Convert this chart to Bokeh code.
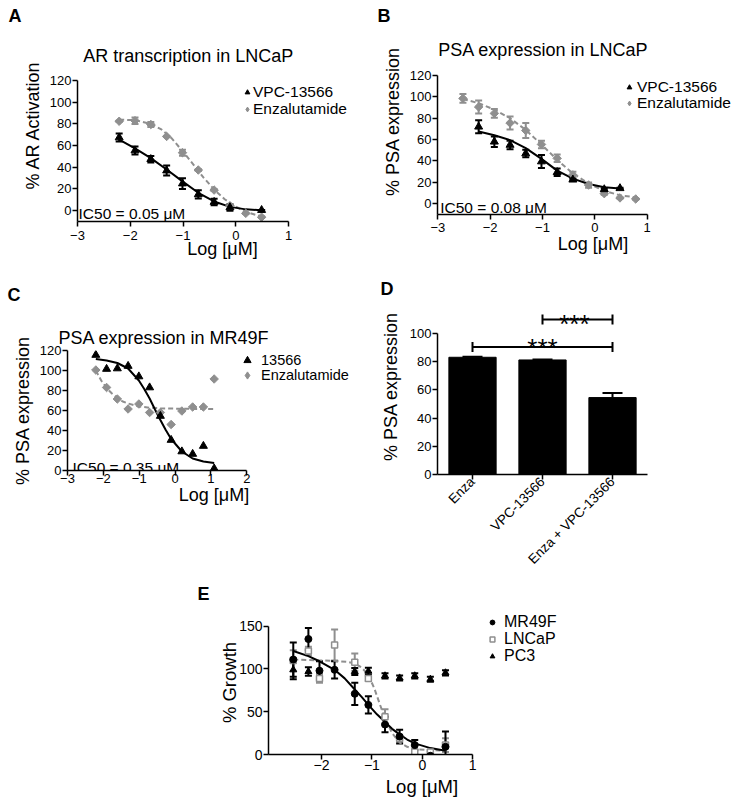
import math
from bokeh.plotting import figure
from bokeh.layouts import column, row
from bokeh.models import (Spacer, Legend, LegendItem, Whisker, TeeHead, ColumnDataSource,
                          Label, FixedTicker, FactorRange, Title)
from bokeh.embed import file_html
from bokeh.resources import INLINE

FONT = "Liberation Sans"
GREY = "#8f8f8f"

# ---------------- Panel A: AR transcription in LNCaP ----------------
a_x_vpc = [-2.21, -1.91, -1.61, -1.31, -1.01, -0.71, -0.41, -0.11, 0.49]
a_y_vpc = [67.5, 55.5, 47.5, 37, 25, 15, 8, 3, 0.5]
a_e_vpc = [3.7, 3.7, 3, 4.6, 5, 3.8, 3, 3, 0]
a_x_enz = [-2.21, -1.91, -1.61, -1.31, -1.01, -0.71, -0.41, -0.11, 0.19, 0.49]
a_y_enz = [82.5, 83, 79.5, 68.5, 53.5, 37.5, 19, 4.5, -2.5, -6]
a_e_enz = [0.5, 3, 2.3, 0.5, 2.8, 0.8, 0.8, 0.5, 0.5, 0.5]
a_cx_vpc = [-2.21, -1.91, -1.61, -1.31, -1.01, -0.71, -0.41, -0.11, 0.19, 0.49]
a_cy_vpc = [65.5, 57.5, 48.5, 38, 27, 16.5, 8.5, 3.5, 1.2, 0.3]
a_cx_enz = [-2.21, -1.91, -1.61, -1.41, -1.21, -1.01, -0.81, -0.61, -0.41, -0.21, -0.01, 0.19, 0.49]
a_cy_enz = [84, 83.5, 80, 75, 66.5, 55, 43, 30.5, 19.5, 10.5, 4, -1, -5.5]

# ---------------- Panel B: PSA expression in LNCaP ----------------
b_x_vpc = [-2.22, -1.92, -1.62, -1.32, -1.02, -0.72, -0.42, 0.18, 0.48]
b_y_vpc = [72, 58, 55, 47, 39.5, 29.5, 22.5, 13.5, 14.5]
b_e_vpc = [6, 5, 4, 3.5, 6, 3.5, 1, 1, 0.5]
b_x_enz = [-2.52, -2.22, -1.92, -1.62, -1.32, -1.02, -0.72, -0.42, -0.12, 0.18, 0.48, 0.78]
b_y_enz = [98.5, 90.5, 84.5, 75.5, 68.5, 55.5, 42.5, 27, 17.5, 9.5, 5.5, 4.5]
b_e_enz = [4, 6, 4, 6, 7, 3.5, 3.5, 3, 2.5, 1, 0.5, 0.5]
b_cx_vpc = [-2.22, -1.92, -1.62, -1.32, -1.02, -0.72, -0.42, -0.12, 0.18, 0.48]
b_cy_vpc = [67.5, 64, 59.5, 52, 42, 31, 23.5, 18.5, 15.5, 14.3]
b_cx_enz = [-2.52, -2.22, -1.92, -1.62, -1.32, -1.02, -0.72, -0.42, -0.12, 0.18, 0.48, 0.78]
b_cy_enz = [98, 94, 88, 80, 69, 55.5, 41, 28.5, 19, 12, 8, 6]

# ---------------- Panel C: PSA expression in MR49F ----------------
c_x = [-2.21, -1.91, -1.61, -1.31, -1.01, -0.71, -0.41, -0.11, 0.19, 0.49, 0.79, 1.09]
c_y_13566 = [115.5, 101.5, 102, 104.5, 94, 83, 54.5, 30.5, 19, 16.5, 24.5, 2]
c_y_enz = [100.5, 83, 71.5, 61.5, 66.5, 58, 58, 46, 59.5, 63.5, 63.5, 91.5]
c_cx_13566 = [-2.21, -1.91, -1.61, -1.31, -1.01, -0.86, -0.71, -0.56, -0.41, -0.26, -0.11, 0.19, 0.49, 0.79, 1.09]
c_cy_13566 = [111.5, 110, 107.5, 102, 90, 81.5, 72, 61, 50.5, 40.5, 31.5, 19, 12, 9, 7.5]
c_cx_enz = [-2.21, -2.06, -1.91, -1.76, -1.61, -1.46, -1.31, -1.01, -0.71, -0.41, 0.09, 0.59, 1.09]
c_cy_enz = [100, 90, 82.5, 77, 72.5, 69, 67, 64, 62.8, 62.2, 61.8, 61.6, 61.5]

# ---------------- Panel D: bars ----------------
d_cats = ["Enza", "VPC-13566", "Enza + VPC-13566"]
d_vals = [83.2, 81.3, 54.6]
d_err = [0.4, 0.3, 3.3]
d_brackets_y = [90.5, 110.0]
d_brackets_from = [0.5, 1.5]
d_brackets_to = [2.5, 2.5]

# ---------------- Panel E: growth ----------------
e_x = [-2.56, -2.26, -2.04, -1.74, -1.34, -1.07, -0.74, -0.45, -0.15, 0.16, 0.46]
e_y_mr = [111, 135, 98, 99, 71, 58, 35, 21, 11, -1.5, 9]
e_e_mr = [20, 13, 11, 10, 13, 10, 9, 8, 6, 5, 18]
e_y_ln = [110, 121, 89, 128, 108, 89, 44, 19, 3, 3, 11]
e_e_ln = [12, 5, 5, 18, 10, 3, 9, 4, 3, 2, 8]
e_x_pc = [-2.56, -2.26, -1.34, -1.07, -0.74, -0.45, -0.15, 0.16, 0.46]
e_y_pc = [99, 97, 97, 97.5, 92, 89.5, 92, 88, 95.5]
e_e_pc = [11, 5, 4, 4, 3, 3, 3, 3, 3]
e_cx_mr = [-2.56, -2.26, -2.04, -1.74, -1.54, -1.34, -1.2, -1.07, -0.9, -0.74, -0.6, -0.45, -0.3, -0.15, 0.16, 0.46]
e_cy_mr = [121, 115, 109, 99, 89, 76, 67, 58, 47, 38, 30, 23.5, 17.5, 13, 7.5, 4.5]
e_cx_ln = [-2.56, -2.26, -2.04, -1.74, -1.5, -1.34, -1.2, -1.07, -0.95, -0.85, -0.74, -0.6, -0.45, -0.3, -0.15, 0.16, 0.46]
e_cy_ln = [111, 110.5, 110, 109.5, 108.3, 106.5, 101.5, 93, 77, 60, 42, 25, 14, 9, 6.2, 5, 4.7]


def make_fig(w, h, xr, yr, left, right, top, bottom, letter, letter_offset, letter_standoff,
             main=None, main_offset=0, main_standoff=0):
    p = figure(width=w, height=h, x_range=xr, y_range=yr, output_backend="svg",
               toolbar_location=None, min_border_left=left, min_border_right=right,
               min_border_top=top, min_border_bottom=bottom, title=letter, frame_align=False)
    p.outline_line_color = None
    p.xgrid.visible = False
    p.ygrid.visible = False
    p.background_fill_color = "white"
    p.border_fill_color = "white"
    p.title.text_font = FONT
    p.title.text_font_size = "18px"
    p.title.text_font_style = "bold"
    p.title.text_color = "black"
    p.title.align = "left"
    p.title.offset = letter_offset
    p.title.standoff = letter_standoff
    if main:
        p.add_layout(Title(text=main, align="left", offset=main_offset, standoff=main_standoff,
                           text_font=FONT, text_font_size="18px", text_font_style="normal",
                           text_color="black"), "above")
    return p


def style_axis(ax, label, label_size, tick_size, label_standoff, tick_standoff, bounds=None):
    ax.axis_label = label
    ax.axis_label_text_font = FONT
    ax.axis_label_text_font_size = label_size
    ax.axis_label_text_font_style = "normal"
    ax.axis_label_text_color = "black"
    ax.axis_label_standoff = label_standoff
    ax.major_label_text_font = FONT
    ax.major_label_text_font_size = tick_size
    ax.major_label_text_color = "black"
    ax.major_label_standoff = tick_standoff
    ax.axis_line_width = 1.5
    ax.axis_line_color = "black"
    ax.major_tick_line_width = 1.5
    ax.major_tick_line_color = "black"
    ax.major_tick_out = 5
    ax.major_tick_in = 0
    ax.minor_tick_line_color = None
    if bounds is not None:
        ax.bounds = bounds


def add_err(p, xs, ys, es, color, size=7, lw=2):
    src = ColumnDataSource(dict(x=xs, upper=[y + e for y, e in zip(ys, es)],
                                lower=[y - e for y, e in zip(ys, es)]))
    w = Whisker(source=src, base="x", upper="upper", lower="lower", dimension="height",
                line_color=color, line_width=lw,
                upper_head=TeeHead(size=size, line_color=color, line_width=lw),
                lower_head=TeeHead(size=size, line_color=color, line_width=lw))
    p.add_layout(w)


def add_legend_rows(p, entries, x, font_size, gw, gh, standoff):
    # one single-item legend per row so that the row pitch matches the original
    for label, rend, y in entries:
        leg = Legend(items=[LegendItem(label=label, renderers=[rend])], location=(x, y),
                     orientation="vertical", border_line_color=None, background_fill_alpha=0,
                     label_text_font=FONT, label_text_font_size=font_size, label_text_color="black",
                     glyph_width=gw, glyph_height=gh, label_height=gh, label_standoff=standoff,
                     spacing=0, padding=0, margin=0)
        p.add_layout(leg, "center")


def text(p, x, y, s, size="18px", style="normal"):
    p.add_layout(Label(x=x, y=y, text=s, text_font=FONT, text_font_size=size,
                       text_font_style=style, text_color="black", text_baseline="alphabetic"))


# ======== A ========  frame: x 77..367, y 28..221
pA = make_fig(377, 265, (-3, 2.4976), (-10, 168.11), 77, 10, 28, 44, "A", -69, 6)
style_axis(pA.xaxis[0], "Log [μM]", "18px", "13px", -4, 4, bounds=(-3, 1))
style_axis(pA.yaxis[0], "% AR Activation", "18px", "13px", 4, 1, bounds=(-10, 120))
pA.xaxis[0].ticker = FixedTicker(ticks=[-3, -2, -1, 0, 1])
pA.yaxis[0].ticker = FixedTicker(ticks=[0, 20, 40, 60, 80, 100, 120])
pA.line(a_cx_enz, a_cy_enz, line_color=GREY, line_width=2, line_dash="5 3")
pA.line(a_cx_vpc, a_cy_vpc, line_color="black", line_width=2)
add_err(pA, a_x_enz, a_y_enz, a_e_enz, GREY)
add_err(pA, a_x_vpc, a_y_vpc, a_e_vpc, "black")
pA.scatter(a_x_enz, a_y_enz, marker="square", angle=math.pi / 4, size=6, color=GREY)
rA_enz_leg = pA.scatter(a_x_enz, a_y_enz, marker="diamond", size=0, color=GREY)
rA_vpc = pA.scatter(a_x_vpc, a_y_vpc, marker="triangle", size=8, color="black")
add_legend_rows(pA, [("VPC-13566", rA_vpc, 119.6), ("Enzalutamide", rA_enz_leg, 102.9)],
                164, "15.5px", 12, 16, 0)
text(pA, -2.892, 143.19, "AR transcription in LNCaP")
text(pA, -2.98, -2.62, "IC50 = 0.05 μM", size="15.5px")

# ======== B ========  frame: x 437..748, y 28..214
pB = make_fig(375, 265, (-3.006, 2.935), (-10, 163.83), 60, 4, 28, 51, "B", -60, 6)
style_axis(pB.xaxis[0], "Log [μM]", "18px", "13px", -1, 3, bounds=(-3, 1))
style_axis(pB.yaxis[0], "% PSA expression", "18px", "13px", 4, 1, bounds=(-10, 120))
pB.xaxis[0].ticker = FixedTicker(ticks=[-3, -2, -1, 0, 1])
pB.yaxis[0].ticker = FixedTicker(ticks=[0, 20, 40, 60, 80, 100, 120])
pB.line(b_cx_enz, b_cy_enz, line_color=GREY, line_width=2, line_dash="5 3")
pB.line(b_cx_vpc, b_cy_vpc, line_color="black", line_width=2)
add_err(pB, b_x_enz, b_y_enz, b_e_enz, GREY)
add_err(pB, b_x_vpc, b_y_vpc, b_e_vpc, "black")
pB.scatter(b_x_enz, b_y_enz, marker="square", angle=math.pi / 4, size=6, color=GREY)
rB_enz_leg = pB.scatter(b_x_enz, b_y_enz, marker="diamond", size=0, color=GREY)
rB_vpc = pB.scatter(b_x_vpc, b_y_vpc, marker="triangle", size=8, color="black")
add_legend_rows(pB, [("VPC-13566", rB_vpc, 117.6), ("Enzalutamide", rB_enz_leg, 101.9)],
                186, "15.5px", 12, 16, 2)
text(pB, -2.99, 143.27, "PSA expression in LNCaP")
text(pB, -2.954, -3.18, "IC50 = 0.08 μM", size="15.5px")

# ======== C ========  frame: x 67..360, y 350..470 (page)
pC = make_fig(377, 310, (-3, 5.171), (0, 120), 67, 17, 85, 105,
              "C", -60, 35, "PSA expression in MR49F", -9, 6)
style_axis(pC.xaxis[0], "Log [μM]", "18px", "13px", -1, -2, bounds=(-3, 2))
style_axis(pC.yaxis[0], "% PSA expression", "18px", "13px", 4, 1, bounds=(0, 120))
pC.xaxis[0].ticker = FixedTicker(ticks=[-3, -2, -1, 0, 1, 2])
pC.yaxis[0].ticker = FixedTicker(ticks=[0, 20, 40, 60, 80, 100, 120])
pC.line(c_cx_enz, c_cy_enz, line_color=GREY, line_width=2, line_dash="5 3")
pC.line(c_cx_13566, c_cy_13566, line_color="black", line_width=2)
pC.scatter(c_x, c_y_enz, marker="square", angle=math.pi / 4, size=6, color=GREY)
rC_enz_leg = pC.scatter(c_x, c_y_enz, marker="diamond", size=0, color=GREY)
rC_13566 = pC.scatter(c_x, c_y_13566, marker="triangle", size=8, color="black")
add_legend_rows(pC, [("13566", rC_13566, 101.3), ("Enzalutamide", rC_enz_leg, 86)],
                171, "14.5px", 18, 18, 5)
text(pC, -2.86, 3.3, "IC50 = 0.35 μM", size="15.5px")

# ======== D ========  frame: x 434..647, y 298..475
pD = make_fig(375, 310, FactorRange(factors=d_cats), (0, 124.91), 57, 105, 33, 100,
              "D", -57, 0)
style_axis(pD.xaxis[0], "", "18px", "13.5px", 0, 0)
style_axis(pD.yaxis[0], "% PSA expression", "18px", "13px", 6, 1, bounds=(0, 100))
pD.xaxis[0].major_label_orientation = math.pi / 4
pD.xaxis[0].axis_label = None
pD.yaxis[0].ticker = FixedTicker(ticks=[0, 20, 40, 60, 80, 100])
pD.x_range.range_padding = 0
dsrc = ColumnDataSource(dict(cat=d_cats, val=d_vals, up=[v + e for v, e in zip(d_vals, d_err)]))
pD.vbar(x="cat", top="val", width=0.675, source=dsrc, fill_color="black", line_color="black")
pD.add_layout(Whisker(source=dsrc, base="cat", upper="up", lower="val", dimension="height",
                      line_color="black", line_width=2,
                      upper_head=TeeHead(size=20, line_color="black", line_width=2),
                      lower_head=None))
bsrc = ColumnDataSource(dict(y=d_brackets_y, x0=d_brackets_from, x1=d_brackets_to))
pD.add_layout(Whisker(source=bsrc, base="y", lower="x0", upper="x1", dimension="width",
                      line_color="black", line_width=2,
                      upper_head=TeeHead(size=10, line_color="black", line_width=2),
                      lower_head=TeeHead(size=10, line_color="black", line_width=2)))
pD.add_layout(Label(x=1.5, y=89.8, text="***", text_align="center", text_baseline="alphabetic",
                    text_font=FONT, text_font_size="26px", text_color="black"))
pD.add_layout(Label(x=1.955, y=106.7, text="***", text_align="center", text_baseline="alphabetic",
                    text_font=FONT, text_font_size="26px", text_color="black"))

# ======== E ========  frame: x 268..575, y 610..754
pE = make_fig(384, 230, (-3.0516, 3.0396), (0, 168.36), 72, 5, 35, 51, "E", -71, 13)
style_axis(pE.xaxis[0], "Log [μM]", "18.5px", "14px", 3, 0, bounds=(-3.05, 1))
style_axis(pE.yaxis[0], "% Growth", "18.5px", "14px", -4, 1, bounds=(0, 150))
pE.xaxis[0].ticker = FixedTicker(ticks=[-2, -1, 0, 1])
pE.yaxis[0].ticker = FixedTicker(ticks=[0, 50, 100, 150])
pE.line(e_cx_ln, e_cy_ln, line_color=GREY, line_width=2, line_dash="5 3")
pE.line(e_cx_mr, e_cy_mr, line_color="black", line_width=2)
add_err(pE, e_x, e_y_ln, e_e_ln, GREY)
add_err(pE, e_x, e_y_mr, e_e_mr, "black")
add_err(pE, e_x_pc, e_y_pc, e_e_pc, "black")
rE_pc = pE.scatter(e_x_pc, e_y_pc, marker="triangle", size=7, color="black")
rE_ln = pE.scatter(e_x, e_y_ln, marker="square", size=6, fill_color="white", line_color=GREY, line_width=1.5)
rE_mr = pE.scatter(e_x, e_y_mr, marker="circle", size=7, color="black")
add_legend_rows(pE, [("MR49F", rE_mr, 122.6), ("LNCaP", rE_ln, 105.8), ("PC3", rE_pc, 89)],
                218, "16px", 12, 16, 6)

layout = column(row(pA, pB), row(pC, pD), row(Spacer(width=196, height=230), pE))

with open("out.html", "w") as f:
    f.write(file_html(layout, INLINE))
